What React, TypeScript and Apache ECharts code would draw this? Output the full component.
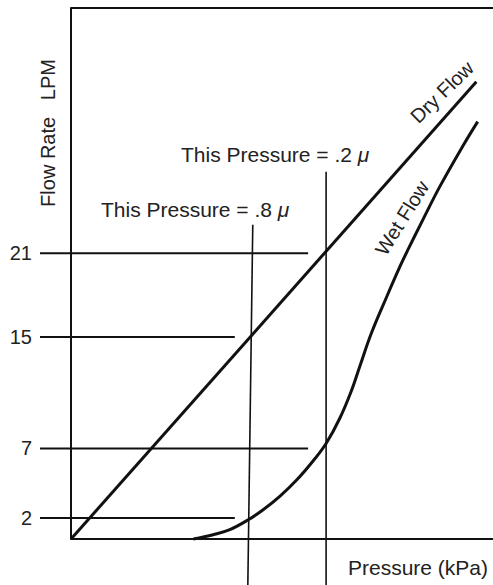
import React, { useEffect, useRef } from "react";
import * as echarts from "echarts";

// Axis ranges (pressure in arbitrary units, flow in LPM)
const X_MIN = -6.9;
const X_MAX = 93.8;
const Y_MIN = 0.5;
const Y_MAX = 38.6;

// Flow-rate tick values (LPM) shown on the y axis
const flowTicks = [2, 7, 15, 21];
// x (pressure) where each horizontal reference line ends
const refLineEnds = [36.4, 52.7, 36.4, 52.7];

// Dry flow: straight line from origin
const dryFlow: number[][] = [
  [0, 0.5],
  [90.1, 33.3],
];

// Wet flow: S-shaped curve
const wetFlow: number[][] = [
  [27.2, 0.5],
  [31.6, 0.81],
  [35.3, 1.17],
  [39.4, 1.88],
  [42.7, 2.6],
  [46.4, 3.56],
  [50.2, 4.75],
  [53.8, 6.1],
  [56.7, 7.35],
  [59.8, 9.2],
  [62.4, 11.2],
  [64.2, 12.9],
  [66.8, 15.3],
  [70.2, 17.9],
  [73.1, 20.04],
  [74.9, 21.26],
  [78.2, 23.4],
  [82.0, 25.8],
  [87.1, 28.7],
  [90.4, 30.45],
];

// Vertical pressure markers
const pressure02: number[][] = [
  [56.7, 26.85],
  [56.7, -2.8],
];
const pressure08: number[][] = [
  [40.4, 23.05],
  [39.3, -2.8],
];

const FONT = "Liberation Sans";
const INK = "#111";

export default function App() {
  const ref = useRef<HTMLDivElement>(null);

  useEffect(() => {
    if (!ref.current) return;
    const chart = echarts.init(ref.current, undefined, { renderer: "svg" });

    const refSeries = flowTicks.map((v, i) => ({
      type: "line",
      name: "ref" + v,
      data: [
        [X_MIN, v],
        [refLineEnds[i], v],
      ],
      symbol: "none",
      clip: false,
      silent: true,
      lineStyle: { color: INK, width: 2 },
    }));

    const frameSeries = [Y_MIN, Y_MAX].map((y, i) => ({
      type: "line",
      name: i === 0 ? "frameBottom" : "frameTop",
      data: [
        [0, y],
        [X_MAX, y],
      ],
      symbol: "none",
      clip: false,
      silent: true,
      lineStyle: { color: INK, width: 2 },
    }));

    const muLabel = (text: string, x: number, y: number) => ({
      type: "text",
      x,
      y,
      style: {
        text,
        fill: "#222",
        fontSize: 21,
        fontFamily: FONT,
        textAlign: "left",
        textVerticalAlign: "middle",
        rich: { mu: { fontStyle: "italic", fontSize: 21, fontFamily: FONT, fill: "#222" } },
      },
    });

    const option: any = {
      animation: false,
      backgroundColor: "#fff",
      grid: {
        left: 40,
        top: 8,
        bottom: 46,
        right: 0,
        show: false,
        outerBoundsMode: "none",
      },
      xAxis: {
        type: "value",
        min: X_MIN,
        max: X_MAX,
        axisLine: { show: false },
        axisTick: { show: false },
        axisLabel: { show: false },
        splitLine: { show: false },
      },
      yAxis: {
        type: "value",
        min: Y_MIN,
        max: Y_MAX,
        axisLine: { show: true, onZero: true, lineStyle: { color: INK, width: 2 } },
        axisTick: { show: false },
        splitLine: { show: false },
        axisLabel: {
          show: true,
          customValues: flowTicks,
          margin: 8,
          color: "#222",
          fontSize: 20,
          fontFamily: FONT,
        },
      },
      series: [
        ...frameSeries,
        ...refSeries,
        {
          type: "line",
          name: "Dry Flow",
          data: dryFlow,
          symbol: "none",
          clip: false,
          lineStyle: { color: INK, width: 3 },
        },
        {
          type: "line",
          name: "Wet Flow",
          data: wetFlow,
          symbol: "none",
          smooth: 0.4,
          clip: false,
          lineStyle: { color: INK, width: 3 },
        },
        {
          type: "line",
          name: ".2 mu",
          data: pressure02,
          symbol: "none",
          clip: false,
          lineStyle: { color: INK, width: 1.6 },
        },
        {
          type: "line",
          name: ".8 mu",
          data: pressure08,
          symbol: "none",
          clip: false,
          lineStyle: { color: INK, width: 1.6 },
        },
      ],
      graphic: [
        muLabel("This Pressure = .2 {mu|μ}", 181, 154),
        muLabel("This Pressure = .8 {mu|μ}", 101, 209),
        {
          type: "text",
          x: 348,
          y: 567,
          style: {
            text: "Pressure (kPa)",
            fill: "#222",
            fontSize: 21,
            fontFamily: FONT,
            textAlign: "left",
            textVerticalAlign: "middle",
          },
        },
        {
          type: "text",
          x: 48,
          y: 133,
          rotation: Math.PI / 2,
          style: {
            text: "Flow Rate   LPM",
            fill: "#222",
            fontSize: 20,
            fontFamily: FONT,
            textAlign: "center",
            textVerticalAlign: "middle",
          },
        },
        {
          type: "text",
          x: 442,
          y: 92,
          rotation: (44 * Math.PI) / 180,
          style: {
            text: "Dry Flow",
            fill: "#222",
            fontSize: 20,
            fontFamily: FONT,
            textAlign: "center",
            textVerticalAlign: "middle",
          },
        },
        {
          type: "text",
          x: 402,
          y: 218,
          rotation: (58 * Math.PI) / 180,
          style: {
            text: "Wet Flow",
            fill: "#222",
            fontSize: 20,
            fontFamily: FONT,
            textAlign: "center",
            textVerticalAlign: "middle",
          },
        },
      ],
    };

    chart.setOption(option);
    return () => chart.dispose();
  }, []);

  return (
    <div
      ref={ref}
      style={{ position: "absolute", left: 0, top: 0, width: 493, height: 585 }}
    />
  );
}
